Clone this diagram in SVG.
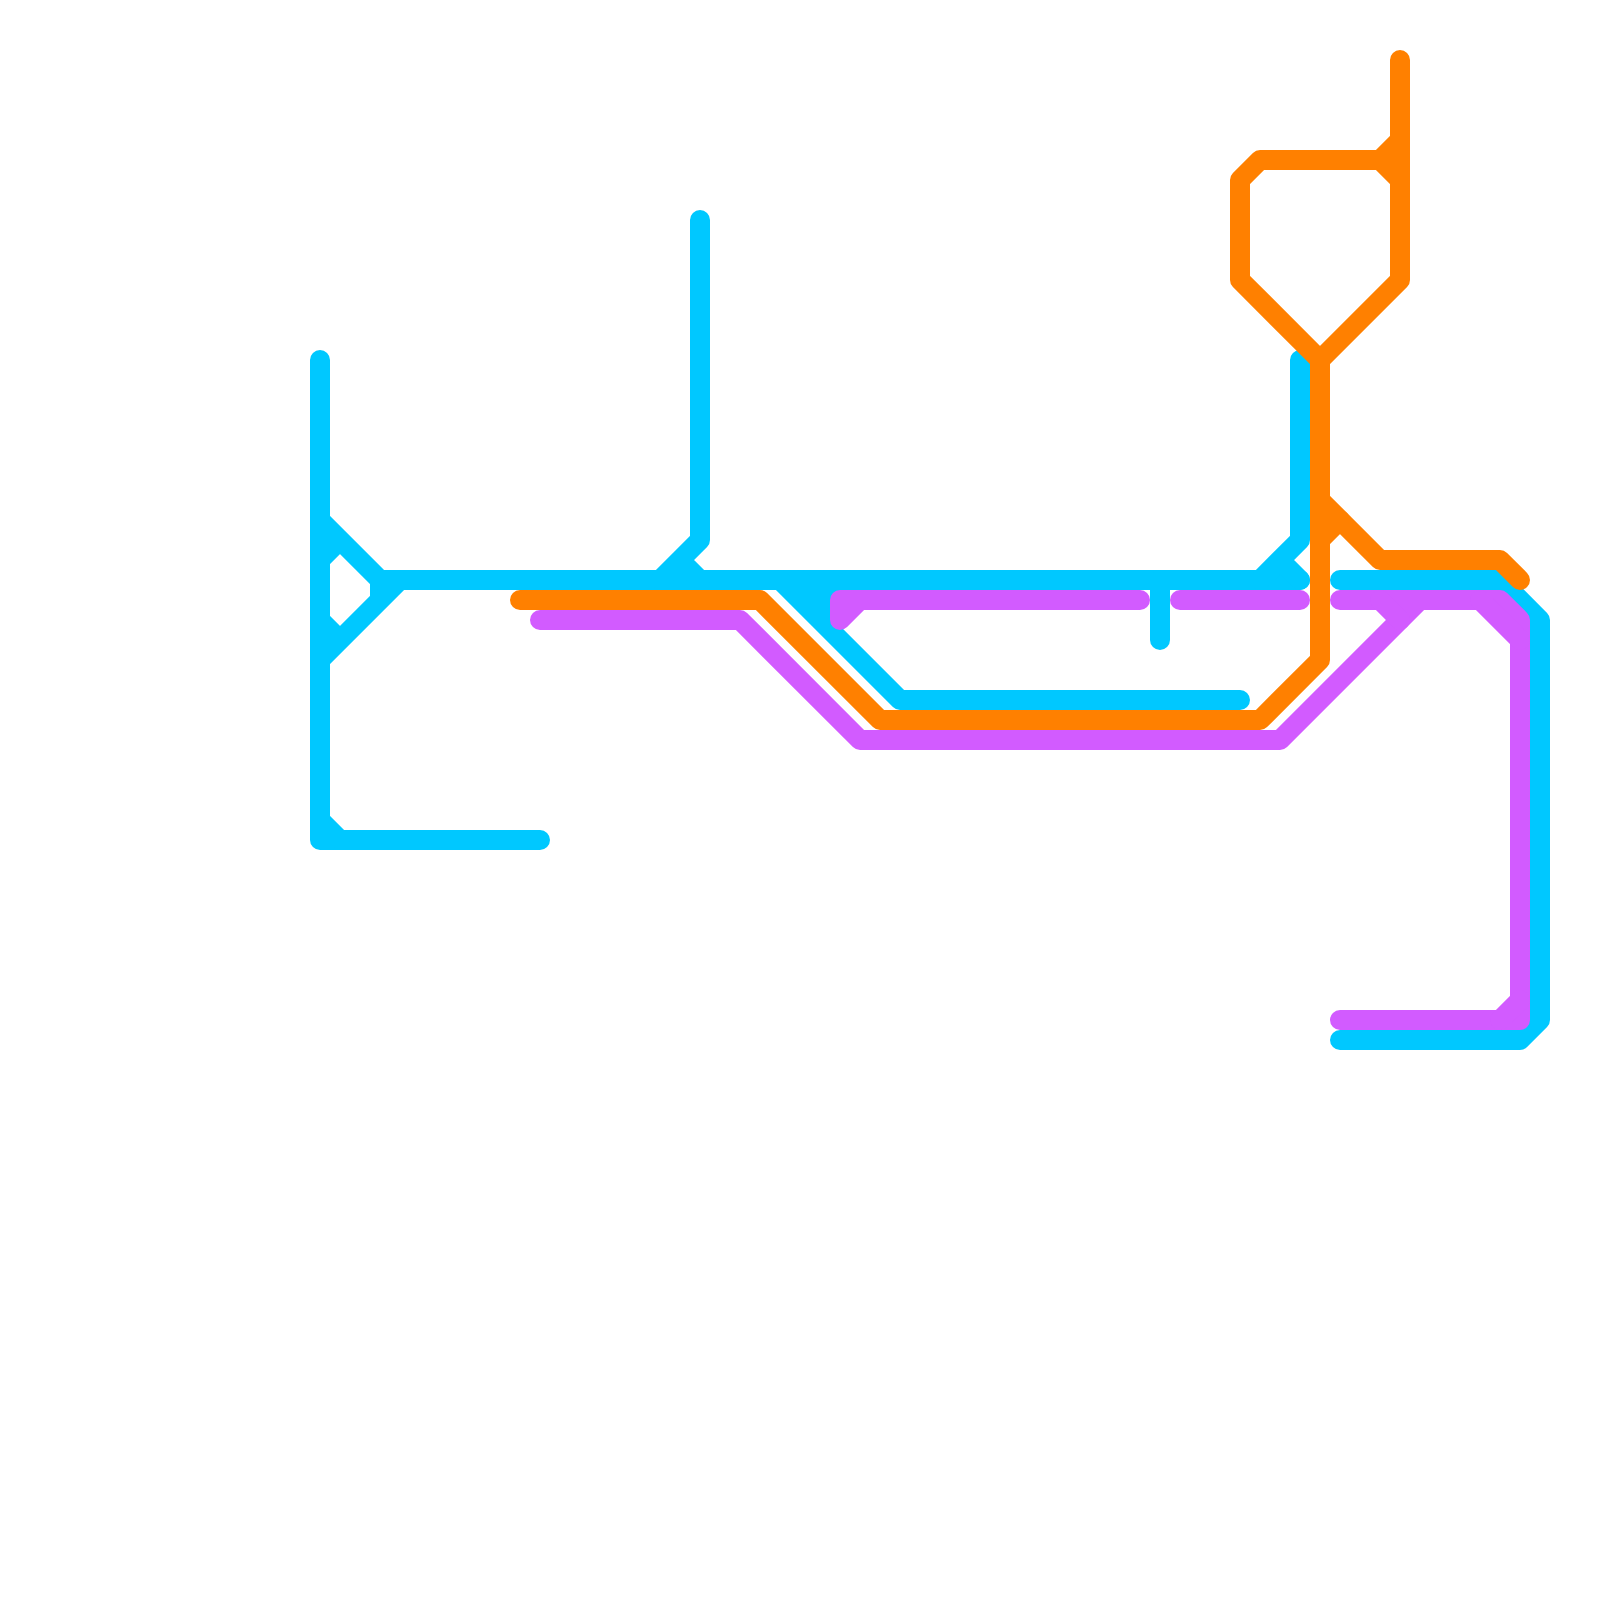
<svg xmlns="http://www.w3.org/2000/svg" width="1600" height="1600" viewBox="0 0 1600 1600">
<style>
path{fill:none;stroke-width:20;stroke-linecap:round;stroke-linejoin:round}
.c path{stroke:#00c8ff}
.p path{stroke:#d25bff}
.o path{stroke:#ff8000}
</style>
<rect width="1600" height="1600" fill="#ffffff"/>
<g id="connectors">
<g id="line-cyan" class="c">
<path d="M320 360V840H540"/>
<path d="M320 520L380 580M320 660L400 580M380 580V600M320 560L340 540M320 620L340 640M320 820L340 840"/>
<path d="M380 580H1300"/>
<path d="M700 220V540L660 580M680 560L700 580"/>
<path d="M780 580L900 700H1240M800 580L820 600M820 580V620M830 580V620"/>
<path d="M1160 580V640"/>
<path d="M1300 360V540L1260 580M1280 560L1300 580"/>
<path d="M1340 580H1500L1540 620V1020L1520 1040H1340"/>
</g>
<g id="line-purple" class="p">
<path d="M540 620H740L860 740H1280L1420 600"/>
<path d="M860 600L840 620V600H1140"/>
<path d="M1180 600H1300"/>
<path d="M1340 600H1500L1520 620V1020H1340"/>
<path d="M1380 600L1400 620M1480 600L1520 640M1520 1000L1500 1020"/>
</g>
<g id="line-orange" class="o">
<path d="M520 600H760L880 720H1260L1320 660V360"/>
<path d="M1320 360L1240 280V180L1260 160H1400"/>
<path d="M1320 360L1400 280V60"/>
<path d="M1380 160L1400 140M1380 160L1400 180"/>
<path d="M1320 500L1380 560H1500L1520 580"/>
<path d="M1320 540L1340 520"/>
</g>
</g>
</svg>
